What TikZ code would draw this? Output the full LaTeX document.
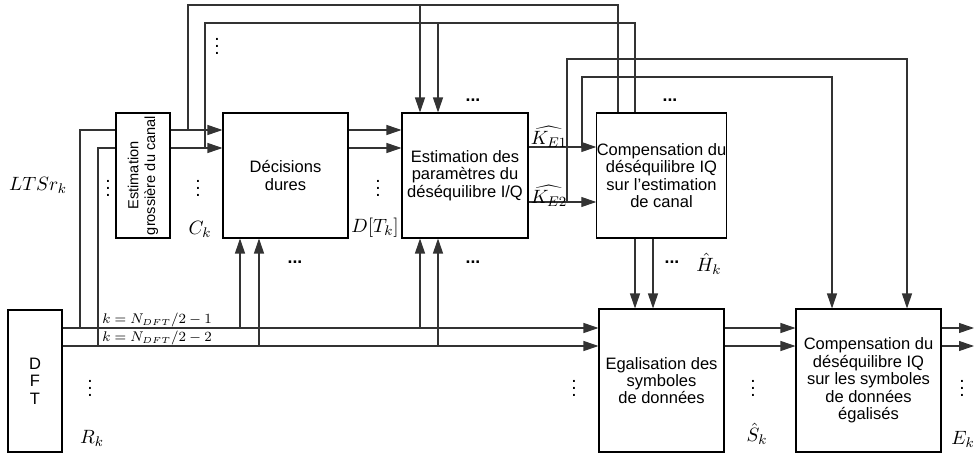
\documentclass[tikz,border=0pt]{standalone}
\usepackage{fontspec}
\setmainfont{Liberation Sans}
\usetikzlibrary{arrows.meta}

\begin{document}
\begin{tikzpicture}[x=0.02cm,y=-0.02cm,>={Triangle[length=3mm,width=2mm]},
    blk/.style={draw,line width=0.6pt,align=center,inner sep=0pt,
        font=\fontsize{9.4}{9.9}\selectfont},
    blktxt/.style={align=center,inner sep=0pt,font=\fontsize{8.3}{9.6}\selectfont},
    wire/.style={line width=0.6pt,black!80},
    lbl/.style={font=\fontsize{11}{13}\selectfont,inner sep=1pt},
    vdts/.style={font=\fontsize{11}{13}\selectfont,inner sep=0pt},
    klbl/.style={font=\fontsize{7.6}{9}\selectfont,inner sep=0pt},
    hdots/.style={font=\fontsize{10}{12}\selectfont\bfseries,inner sep=0pt}]
    \useasboundingbox (0,0) rectangle (974,456);

    % Blocks
    \node[blk,minimum width=1.08cm,minimum height=2.84cm] (dft) at (35,381) {D\\F\\T};
    \node[blk,minimum width=1.08cm,minimum height=2.5cm] (est) at (143,175.5) {};
    \node[blktxt,rotate=90] (esttxt) at (est.center) {Estimation\\grossière du canal};
    \node[blk,minimum width=2.5cm,minimum height=2.5cm] (dec) at (285.5,175.5) {Décisions\\dures};
    \node[blk,minimum width=2.52cm,minimum height=2.5cm] (par) at (465,175.5)
        {Estimation des\\paramètres du\\déséquilibre I/Q};
    \node[blk,minimum width=2.5cm,minimum height=2.5cm] (cmp) at (661.5,175.5)
        {Compensation du\\déséquilibre IQ\\sur l'estimation\\de canal};
    \node[blk,minimum width=2.5cm,minimum height=2.86cm] (egal) at (661.5,380.5)
        {Egalisation des\\symboles\\de données};
    \node[blk,minimum width=2.9cm,minimum height=2.86cm] (cms) at (868.5,380.5)
        {Compensation du\\déséquilibre IQ\\sur les symboles\\de données\\égalisés};

    % Signal rows
    \coordinate (r1) at (0,130);
    \coordinate (r2) at (0,148);
    \coordinate (b1) at (0,328);
    \coordinate (b2) at (0,346);
    \coordinate (k1) at (0,147);
    \coordinate (k2) at (0,202);
    \coordinate (out1) at (974,328);
    \coordinate (out2) at (974,346);

    % DFT outputs
    \draw[wire,->] (dft.east |- b1) -- (egal.west |- b1);
    \draw[wire,->] (dft.east |- b2) -- (egal.west |- b2);
    \draw[wire] (80,328) |- (est.west |- r1);
    \draw[wire] (98,346) |- (est.west |- r2);

    % Coarse estimate to decisions
    \draw[wire,->] (est.east |- r1) -- (dec.west |- r1);
    \draw[wire,->] (est.east |- r2) -- (dec.west |- r2);
    \draw[wire] (188,130) |- (618,5) -- (cmp.north -| 618,0);
    \draw[wire] (205,148) |- (635,23) -- (cmp.north -| 635,0);
    \draw[wire,->] (420,5) -- (par.north -| 420,0);
    \draw[wire,->] (438,23) -- (par.north -| 438,0);

    % Decisions to estimation
    \draw[wire,->] (dec.east |- r1) -- (par.west |- r1);
    \draw[wire,->] (dec.east |- r2) -- (par.west |- r2);
    \draw[wire,->] (240,328) -- (dec.south -| 240,0);
    \draw[wire,->] (259,346) -- (dec.south -| 259,0);
    \draw[wire,->] (420,328) -- (par.south -| 420,0);
    \draw[wire,->] (438,346) -- (par.south -| 438,0);

    % IQ parameters
    \draw[wire,->] (par.east |- k1) -- (cmp.west |- k1);
    \draw[wire,->] (par.east |- k2) -- (cmp.west |- k2);
    \draw[wire,->] (582,147) |- (832,77) -- (cms.north -| 832,0);
    \draw[wire,->] (567,202) |- (907,59) -- (cms.north -| 907,0);

    % Channel to equalisation
    \draw[wire,->] (cmp.south -| 635,0) -- (egal.north -| 635,0);
    \draw[wire,->] (cmp.south -| 653,0) -- (egal.north -| 653,0);
    \draw[wire,->] (egal.east |- b1) -- (cms.west |- b1);
    \draw[wire,->] (egal.east |- b2) -- (cms.west |- b2);
    \draw[wire,->] (cms.east |- out1) -- (out1);
    \draw[wire,->] (cms.east |- out2) -- (out2);

    % Labels
    \node[lbl] (lts) at (38,185) {$LTSr_k$};
    \node[lbl] (ck) at (200,229) {$C_k$};
    \node[lbl] (dtk) at (375,228) {$D[T_k]$};
    \node[lbl] (ke1) at (549,137) {$\widehat{K_{E1}}$};
    \node[lbl] (ke2) at (549,196) {$\widehat{K_{E2}}$};
    \node[lbl] (hk) at (709,264) {$\hat{H}_k$};
    \node[lbl] (sk) at (757,434) {$\hat{S}_k$};
    \node[lbl] (ek) at (963,439) {$E_k$};
    \node[lbl] (rk) at (92,438) {$R_k$};
    \node[klbl] (kn1) at (157,320) {$k=N_{DFT}/2-1$};
    \node[klbl] (kn2) at (157,338) {$k=N_{DFT}/2-2$};

    % Dots
    \foreach \px/\py in {217/41,108/183,198/183,378/183,90/383,574/383,753/383,962/383}
        \node[vdts] at (\px,\py) {$\vdots$};
    \foreach \px/\py in {473/100,670/100,295/262,473/262,672/262}
        \node[hdots] at (\px,\py) {...};
\end{tikzpicture}
\end{document}
